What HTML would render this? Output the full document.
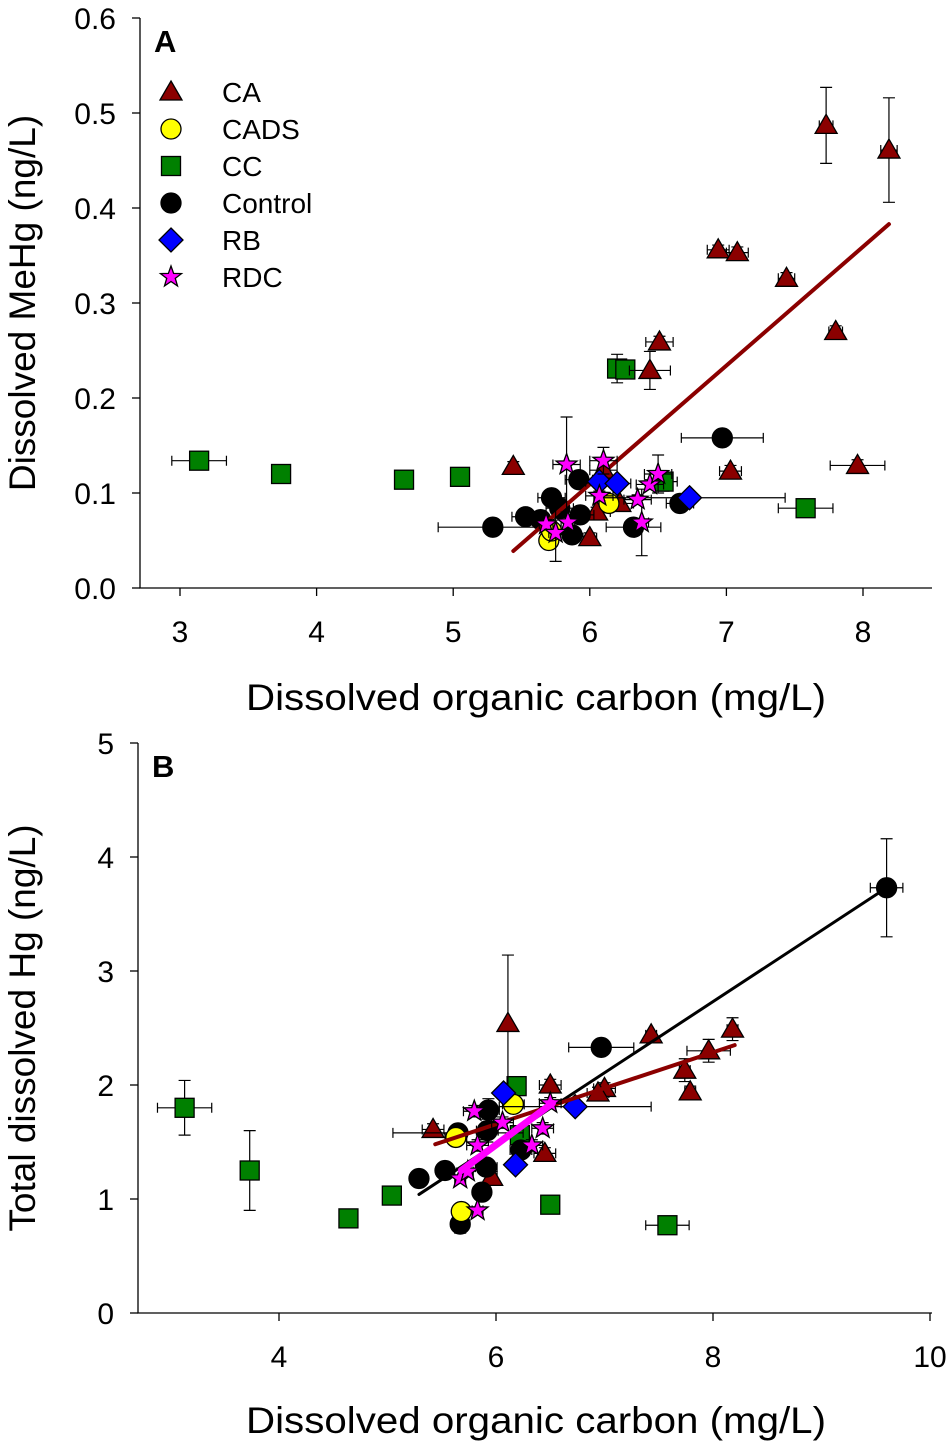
<!DOCTYPE html>
<html><head><meta charset="utf-8"><style>
body{margin:0;background:#fff}
svg{display:block;font-family:"Liberation Sans",Arial,sans-serif}
</style></head><body>
<svg id="s" width="950" height="1448" viewBox="0 0 950 1448"></svg>
<script>
// Panel A data: [x, y, xerr, yerr]
const aCA=[[7.73,0.487,0.05,0.04],[8.19,0.461,0.06,0.055],[6.94,0.356,0.08,0.005],[7.08,0.353,0.08,0.006],[7.44,0.326,0.06,0.006],[6.51,0.259,0.1,0.006],[6.44,0.229,0.15,0.02],[7.80,0.270,0.05,0.006],[7.03,0.123,0.08,0.006],[7.96,0.129,0.2,0.006],[5.44,0.128,0.03,0.005],[6.10,0.124,0.1,0.01],[6.05,0.080,0.1,0.005],[6.0,0.053,0.05,0.005],[6.22,0.089,0.1,0.005]];
const aCADS=[[5.70,0.050,0.05,0.005],[6.14,0.089,0.05,0.005],[5.72,0.060,0.05,0.005]];
const aCC=[[3.14,0.134,0.2,0.005],[3.74,0.120,0.02,0.005],[4.64,0.114,0.05,0.005],[5.05,0.117,0.05,0.005],[6.20,0.231,0.05,0.015],[6.26,0.230,0.05,0.005],[7.58,0.084,0.2,0.005],[6.54,0.112,0.1,0.01]];
const aCtl=[[5.29,0.064,0.4,0.005],[5.53,0.075,0.1,0.005],[5.72,0.095,0.1,0.005],[5.92,0.114,0.1,0.005],[6.97,0.158,0.3,0.005],[6.32,0.064,0.2,0.005],[6.66,0.089,0.1,0.005],[5.64,0.072,0.1,0.005],[5.87,0.056,0.05,0.005],[5.93,0.077,0.1,0.005],[5.78,0.084,0.1,0.005]];
const aRB=[[6.73,0.095,0.7,0.005],[6.07,0.112,0.1,0.005],[6.20,0.110,0.1,0.005]];
const aRDC=[[5.83,0.130,0.1,0.05],[6.10,0.134,0.1,0.014],[5.68,0.067,0.05,0.005],[5.84,0.069,0.05,0.005],[5.75,0.058,0.05,0.03],[6.07,0.097,0.1,0.005],[6.35,0.093,0.1,0.005],[6.44,0.109,0.1,0.005],[6.50,0.120,0.1,0.02],[6.38,0.069,0.05,0.035]];
const aLine=[[5.44,0.039],[8.19,0.383]];
const aXTicks=[3,4,5,6,7,8];
const aYTicks=[0.0,0.1,0.2,0.3,0.4,0.5,0.6];
// Panel B data
const bCA=[[6.11,2.54,0.03,0.6],[7.43,2.44,0.05,0.03],[8.18,2.49,0.05,0.1],[7.96,2.30,0.2,0.1],[7.74,2.13,0.05,0.1],[7.79,1.94,0.05,0.05],[7.00,1.97,0.1,0.05],[6.94,1.93,0.1,0.05],[6.50,2.00,0.1,0.05],[5.42,1.61,0.1,0.05],[6.45,1.40,0.1,0.05],[5.96,1.19,0.05,0.05]];
const bCADS=[[5.63,1.54,0.1,0.05],[5.68,0.89,0.05,0.05],[6.16,1.83,0.1,0.05]];
const bCC=[[3.13,1.80,0.25,0.24],[3.73,1.25,0.02,0.35],[4.64,0.83,0.05,0.03],[5.04,1.03,0.05,0.03],[6.50,0.95,0.03,0.03],[7.58,0.77,0.2,0.03],[6.19,1.99,0.05,0.05],[6.22,1.56,0.05,0.05]];
const bCtl=[[9.60,3.73,0.15,0.43],[6.97,2.33,0.3,0.03],[5.29,1.18,0.03,0.03],[5.53,1.25,0.03,0.03],[5.67,0.78,0.03,0.08],[5.87,1.06,0.05,0.05],[5.65,1.58,0.6,0.05],[5.93,1.78,0.1,0.1],[5.91,1.28,0.1,0.05],[6.23,1.43,0.1,0.05],[5.92,1.60,0.1,0.1]];
const bRB=[[6.07,1.93,0.05,0.05],[6.73,1.81,0.7,0.05],[6.18,1.30,0.05,0.05]];
const bRDC=[[6.50,1.84,0.1,0.05],[5.80,1.77,0.1,0.05],[6.06,1.67,0.1,0.05],[5.83,1.47,0.1,0.05],[6.33,1.47,0.1,0.05],[6.43,1.62,0.1,0.05],[5.83,0.90,0.05,0.03],[5.67,1.18,0.05,0.03],[5.74,1.24,0.05,0.03]];
const bLineCtl=[[5.29,1.04],[9.60,3.73]];
const bLineCA=[[5.44,1.48],[8.20,2.35]];
const bLineRDC=[[5.68,1.25],[6.52,1.84]];
const bXTicks=[4,6,8,10];
const bYTicks=[0,1,2,3,4,5];

const NS="http://www.w3.org/2000/svg";const S=document.getElementById('s');
function el(t,a,p){const e=document.createElementNS(NS,t);for(const k in a)e.setAttribute(k,a[k]);(p||S).appendChild(e);return e;}
function mkAxis(x0,x1,px0,px1,y0,y1,py0,py1){return{x:v=>px0+(v-x0)/(x1-x0)*(px1-px0),y:v=>py0+(v-y0)/(y1-y0)*(py1-py0)};}
const A=mkAxis(3,8,180,863,0,0.6,588,18);
const B=mkAxis(4,10,279,930,0,5,1313,743);
function marker(g,kind,cx,cy){
  let e;const st={stroke:'#000','stroke-width':1.3};
  if(kind==='CA'){e=el('polygon',Object.assign({points:`${cx},${cy-11} ${cx+11},${cy+8} ${cx-11},${cy+8}`,fill:'#8b0000'},st),g);}
  else if(kind==='CADS'){e=el('circle',Object.assign({cx,cy,r:10,fill:'#ffff00'},st),g);}
  else if(kind==='CC'){e=el('rect',Object.assign({x:cx-9.5,y:cy-9.5,width:19,height:19,fill:'#008000'},st),g);}
  else if(kind==='Control'){e=el('circle',Object.assign({cx,cy,r:10,fill:'#000'},st),g);}
  else if(kind==='RB'){e=el('polygon',Object.assign({points:`${cx},${cy-12} ${cx+12},${cy} ${cx},${cy+12} ${cx-12},${cy}`,fill:'#0000ff'},st),g);}
  else {let p=[];for(let i=0;i<10;i++){const r=i%2?4.5:11,a=-Math.PI/2+i*Math.PI/5;p.push((cx+r*Math.cos(a)).toFixed(1)+','+(cy+r*Math.sin(a)).toFixed(1));}
    e=el('polygon',Object.assign({points:p.join(' '),fill:'#ff00ff'},st),g);}
  return e;
}
function errbars(g,ax,d){const x=ax.x(d[0]),y=ax.y(d[1]);
  const xl=ax.x(d[0]-d[2]),xr=ax.x(d[0]+d[2]),yt=ax.y(d[1]+d[3]),yb=ax.y(d[1]-d[3]);
  const a={stroke:'#000','stroke-width':1.2,fill:'none'};
  el('path',Object.assign({d:`M${xl},${y}H${xr}M${xl},${y-5}v10M${xr},${y-5}v10M${x},${yt}V${yb}M${x-6},${yt}h12M${x-6},${yb}h12`},a),g);}
function series(ax,data,kind,name){
  const g=el('g',{});
  
  
  data.forEach(d=>errbars(g,ax,d));
  data.forEach(d=>{const m=marker(g,kind,ax.x(d[0]),ax.y(d[1]));
    
    });
}
function fitline(ax,l,color,w,name){const e=el('line',{x1:ax.x(l[0][0]),y1:ax.y(l[0][1]),x2:ax.x(l[1][0]),y2:ax.y(l[1][1]),stroke:color,'stroke-width':w,'stroke-linecap':'round'});
  
  }
function frame(ax,L,R,T,Bt,xt,yt,fmt,xlabel,ylabel,letter,ylx,xly,pre){
  const a=el('path',{d:`M${L},${T}V${Bt}H${R}`,stroke:'#000','stroke-width':1.3,fill:'none'});
  
  
  xt.forEach(v=>{const x=ax.x(v);el('line',{x1:x,y1:Bt,x2:x,y2:Bt+8,stroke:'#000','stroke-width':1.3});
    const t=el('text',{x:x,y:Bt+54,'font-size':30,'text-anchor':'middle'});t.textContent=v;
    
    });
  yt.forEach(v=>{const y=ax.y(v);el('line',{x1:L,y1:y,x2:L-8,y2:y,stroke:'#000','stroke-width':1.3});
    const t=el('text',{x:L-24,y:y+11,'font-size':30,'text-anchor':'end'});t.textContent=fmt(v);
    
    });
  const xl=el('text',{x:536,y:xly,'font-size':37,'text-anchor':'middle',textLength:580,lengthAdjust:'spacingAndGlyphs'});xl.textContent=xlabel;
  
  
  const cy=(T+Bt)/2;const yl=el('text',{x:ylx,y:cy,'font-size':37,'text-anchor':'middle',transform:`rotate(-90 ${ylx} ${cy})`});yl.textContent=ylabel;
  
  
  const lt=el('text',{x:L+14,y:T+34,'font-size':31,'font-weight':'bold'});lt.textContent=letter;
  
  
}
frame(A,140,932,18,588,aXTicks,aYTicks,v=>v.toFixed(1),'Dissolved organic carbon (mg/L)','Dissolved MeHg (ng/L)','A',35,710,'a-');
frame(B,138,932,743,1313,bXTicks,bYTicks,v=>v,'Dissolved organic carbon (mg/L)','Total dissolved Hg (ng/L)','B',35,1433,'b-');
// panel A
series(A,aCC,'CC','a-cc');series(A,aCA,'CA','a-ca');series(A,aCtl,'Control','a-control');series(A,aCADS,'CADS','a-cads');
fitline(A,aLine,'#8b0000',4,'a-ca-fit-line');
series(A,aRB,'RB','a-rb');series(A,aRDC,'RDC','a-rdc');
// panel B
series(B,bCC,'CC','b-cc');series(B,bCA,'CA','b-ca');series(B,bCtl,'Control','b-control');series(B,bCADS,'CADS','b-cads');series(B,bRB,'RB','b-rb');
fitline(B,bLineCtl,'#000',3,'b-control-fit-line');fitline(B,bLineCA,'#8b0000',4,'b-ca-fit-line');
series(B,bRDC,'RDC','b-rdc');
fitline(B,bLineRDC,'#ff00ff',7,'b-rdc-fit-line');
// legend
const lg=el('g',{});
[['CA','CA'],['CADS','CADS'],['CC','CC'],['Control','Control'],['RB','RB'],['RDC','RDC']].forEach((k,i)=>{
  const y=92+i*37;const m=marker(lg,k[0],171,y);
  const t=el('text',{x:222,y:y+10,'font-size':28},lg);t.textContent=k[1];
  
  });
</script>
</body></html>
